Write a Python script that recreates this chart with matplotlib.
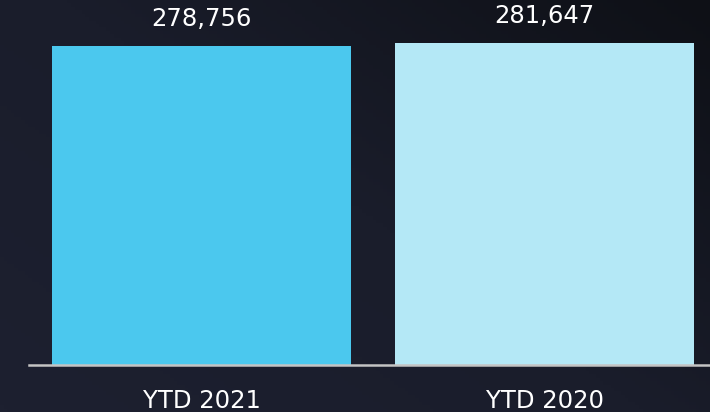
import numpy as np
import matplotlib
matplotlib.use('Agg')
import matplotlib.pyplot as plt
from matplotlib.colors import LinearSegmentedColormap

# data
categories = ["YTD 2021", "YTD 2020"]
values = [278756, 281647]
bar_colors = ["#4bc8ee", "#b4e8f6"]

fig = plt.figure(figsize=(7.1, 4.12), dpi=100)

# background gradient (lighter navy bottom-left -> darker top-right)
bg = fig.add_axes([0, 0, 1, 1])
xx, yy = np.meshgrid(np.linspace(0, 1, 200), np.linspace(0, 1, 120))
grad = np.clip(0.55 * xx + 0.45 * (1 - yy), 0, 1)
cmap = LinearSegmentedColormap.from_list("bg", ["#1d2030", "#1a1d2b", "#0e1016"])
bg.imshow(grad, cmap=cmap, aspect="auto", extent=[0, 1, 0, 1], origin="upper")
bg.axis("off")

ax = fig.add_axes([29 / 710, 47 / 412, 681 / 710, 365 / 412])
ax.patch.set_alpha(0)
x = np.arange(len(categories))
bars = ax.bar(x, values, width=0.872, color=bar_colors, zorder=2)
ax.set_xlim(-0.503, 1.4825)
ax.set_ylim(0, 319000)

for b, v in zip(bars, values):
    ax.annotate(f"{v:,}", (b.get_x() + b.get_width() / 2, v), xytext=(0, 10.5),
                textcoords="offset points", ha="center", va="bottom",
                color="white", fontsize=17.5, fontweight="medium")

ax.set_xticks(x)
ax.set_xticklabels(categories, color="white", fontsize=17.5, fontweight="medium")
ax.tick_params(axis="x", length=0, pad=17)
ax.set_yticks([])
for s in ["top", "right", "left"]:
    ax.spines[s].set_visible(False)
ax.spines["bottom"].set_color("#c4c4c4")
ax.spines["bottom"].set_linewidth(1.8)
ax.spines["bottom"].set_zorder(3)

fig.savefig("out.png", dpi=100)
